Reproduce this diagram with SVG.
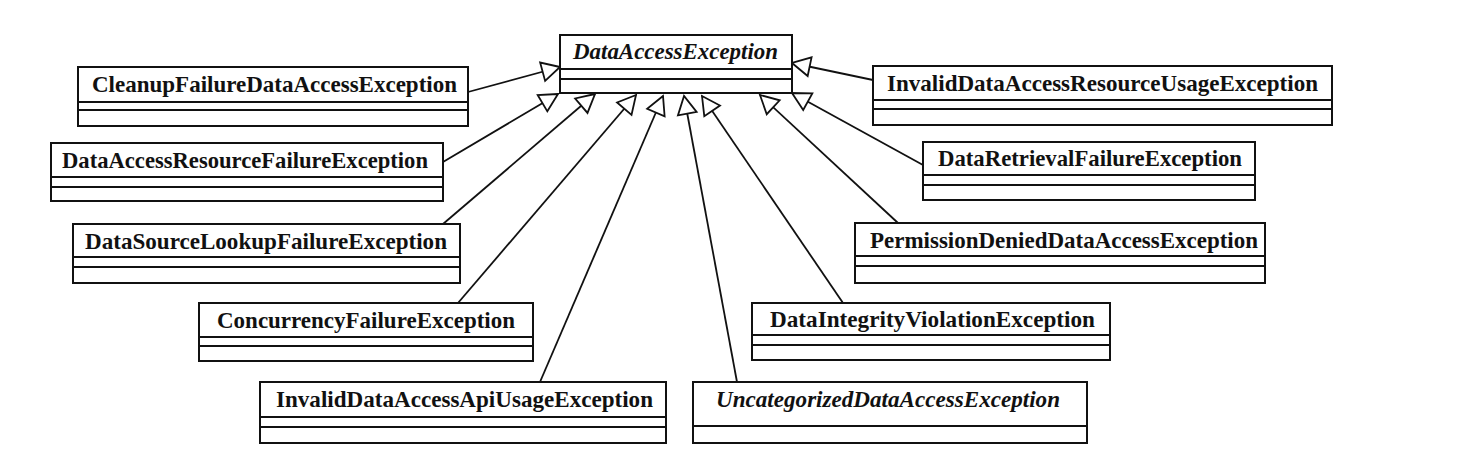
<svg xmlns="http://www.w3.org/2000/svg" width="1470" height="468" viewBox="0 0 1470 468">
<style>
.box rect{fill:#fff;stroke:#111;stroke-width:2}
.box line{stroke:#111;stroke-width:2}
.box text{font-family:"Liberation Serif","Times New Roman",serif;font-size:22.5px;font-weight:bold;fill:#111;text-anchor:middle}
.box text.abs{font-style:italic}
.conn line{stroke:#111;stroke-width:1.8;marker-end:url(#gen)}
</style>
<defs>
<marker id="gen" markerUnits="userSpaceOnUse" markerWidth="22" markerHeight="22" refX="18" refY="9.5" orient="auto" overflow="visible">
<path d="M18,9.5 L0,0 L0,19 Z" fill="#fff" stroke="#111" stroke-width="1.8"/>
</marker>
</defs>
<rect width="1470" height="468" fill="#fff"/>
<g class="conn" id="connectors">
<line x1="468" y1="92" x2="560" y2="67"/>
<line x1="443" y1="162" x2="558" y2="94"/>
<line x1="443" y1="224" x2="595" y2="94"/>
<line x1="458" y1="303" x2="636" y2="95"/>
<line x1="540" y1="382" x2="663" y2="96"/>
<line x1="737" y1="382" x2="684" y2="96"/>
<line x1="843" y1="303" x2="702" y2="96"/>
<line x1="898" y1="223" x2="760" y2="95"/>
<line x1="923" y1="165" x2="792" y2="93"/>
<line x1="873" y1="80" x2="792" y2="63"/>
</g>
<g class="box" id="DataAccessException">
<rect x="560" y="35" width="232" height="58"/>
<line x1="560" y1="69" x2="792" y2="69"/><line x1="560" y1="79" x2="792" y2="79"/>
<text class="abs" x="675.5" y="59" textLength="205" lengthAdjust="spacingAndGlyphs">DataAccessException</text>
</g>
<g class="box" id="CleanupFailureDataAccessException">
<rect x="78" y="67" width="390" height="59"/>
<line x1="78" y1="102" x2="468" y2="102"/><line x1="78" y1="110" x2="468" y2="110"/>
<text x="274.5" y="92" textLength="365" lengthAdjust="spacingAndGlyphs">CleanupFailureDataAccessException</text>
</g>
<g class="box" id="DataAccessResourceFailureException">
<rect x="51" y="143" width="392" height="58"/>
<line x1="51" y1="177" x2="443" y2="177"/><line x1="51" y1="187" x2="443" y2="187"/>
<text x="245" y="168" textLength="366" lengthAdjust="spacingAndGlyphs">DataAccessResourceFailureException</text>
</g>
<g class="box" id="DataSourceLookupFailureException">
<rect x="73" y="224" width="387" height="59"/>
<line x1="73" y1="257" x2="460" y2="257"/><line x1="73" y1="267" x2="460" y2="267"/>
<text x="266" y="249" textLength="362" lengthAdjust="spacingAndGlyphs">DataSourceLookupFailureException</text>
</g>
<g class="box" id="ConcurrencyFailureException">
<rect x="199" y="303" width="334" height="58"/>
<line x1="199" y1="337" x2="533" y2="337"/><line x1="199" y1="346" x2="533" y2="346"/>
<text x="366" y="328" textLength="298" lengthAdjust="spacingAndGlyphs">ConcurrencyFailureException</text>
</g>
<g class="box" id="InvalidDataAccessApiUsageException">
<rect x="260" y="382" width="406" height="61"/>
<line x1="260" y1="417" x2="666" y2="417"/><line x1="260" y1="427" x2="666" y2="427"/>
<text x="464.5" y="407" textLength="377" lengthAdjust="spacingAndGlyphs">InvalidDataAccessApiUsageException</text>
</g>
<g class="box" id="UncategorizedDataAccessException">
<rect x="693" y="382" width="394" height="61"/>
<line x1="693" y1="426" x2="1087" y2="426"/>
<text class="abs" x="888" y="407" textLength="344" lengthAdjust="spacingAndGlyphs">UncategorizedDataAccessException</text>
</g>
<g class="box" id="DataIntegrityViolationException">
<rect x="752" y="303" width="358" height="57"/>
<line x1="752" y1="335" x2="1110" y2="335"/><line x1="752" y1="345" x2="1110" y2="345"/>
<text x="932.5" y="327" textLength="325" lengthAdjust="spacingAndGlyphs">DataIntegrityViolationException</text>
</g>
<g class="box" id="PermissionDeniedDataAccessException">
<rect x="855" y="223" width="410" height="60"/>
<line x1="855" y1="256" x2="1265" y2="256"/><line x1="855" y1="266" x2="1265" y2="266"/>
<text x="1064" y="248" textLength="388" lengthAdjust="spacingAndGlyphs">PermissionDeniedDataAccessException</text>
</g>
<g class="box" id="DataRetrievalFailureException">
<rect x="923" y="142" width="332" height="58"/>
<line x1="923" y1="175" x2="1255" y2="175"/><line x1="923" y1="185" x2="1255" y2="185"/>
<text x="1090" y="166" textLength="304" lengthAdjust="spacingAndGlyphs">DataRetrievalFailureException</text>
</g>
<g class="box" id="InvalidDataAccessResourceUsageException">
<rect x="873" y="66" width="459" height="59"/>
<line x1="873" y1="100" x2="1332" y2="100"/><line x1="873" y1="109" x2="1332" y2="109"/>
<text x="1102.5" y="91" textLength="431" lengthAdjust="spacingAndGlyphs">InvalidDataAccessResourceUsageException</text>
</g>
</svg>
